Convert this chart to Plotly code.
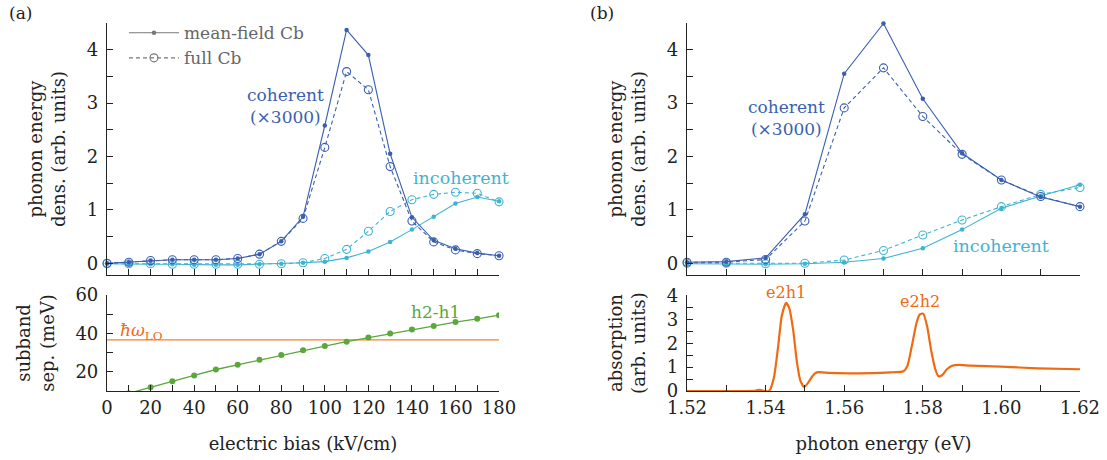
import plotly.graph_objects as go

# ---------------- data ----------------
bias = [0, 10, 20, 30, 40, 50, 60, 70, 80, 90, 100, 110, 120, 130, 140, 150, 160, 170, 180]
coh_mf_a = [0.0, 0.02, 0.05, 0.065, 0.065, 0.065, 0.09, 0.17, 0.41, 0.87, 2.58, 4.37, 3.90, 2.05, 0.86, 0.43, 0.27, 0.19, 0.14]
coh_full_a = [0.0, 0.02, 0.05, 0.065, 0.065, 0.065, 0.09, 0.17, 0.41, 0.84, 2.17, 3.59, 3.25, 1.81, 0.79, 0.40, 0.25, 0.18, 0.14]
inc_mf_a = [-0.01, -0.02, -0.02, -0.02, -0.03, -0.03, -0.03, -0.02, -0.01, 0.01, 0.03, 0.10, 0.22, 0.40, 0.63, 0.87, 1.12, 1.24, 1.16]
inc_full_a = [-0.01, -0.01, -0.01, -0.02, -0.02, -0.02, -0.02, -0.02, -0.01, 0.01, 0.09, 0.26, 0.60, 0.97, 1.19, 1.29, 1.33, 1.31, 1.15]

bias_sub = [10, 20, 30, 40, 50, 60, 70, 80, 90, 100, 110, 120, 130, 140, 150, 160, 170, 180]
h2h1 = [8.8, 12.0, 15.1, 18.1, 21.2, 23.7, 26.3, 28.7, 31.2, 33.4, 35.7, 37.8, 39.9, 42.0, 43.9, 45.9, 47.6, 49.5]
hw_lo = 36.6

photon = [1.52, 1.53, 1.54, 1.55, 1.56, 1.57, 1.58, 1.59, 1.60, 1.61, 1.62]
coh_mf_b = [0.02, 0.03, 0.10, 0.92, 3.55, 4.49, 3.08, 2.06, 1.56, 1.24, 1.06]
coh_full_b = [0.02, 0.02, 0.07, 0.79, 2.91, 3.66, 2.75, 2.04, 1.56, 1.25, 1.06]
inc_mf_b = [-0.01, -0.02, -0.02, -0.01, 0.02, 0.09, 0.28, 0.63, 1.03, 1.26, 1.47]
inc_full_b = [0.0, 0.0, -0.01, 0.0, 0.06, 0.24, 0.53, 0.81, 1.06, 1.29, 1.42]

abs_e = [1.520, 1.525, 1.530, 1.535, 1.5375, 1.5385, 1.5398, 1.5409, 1.5421, 1.5432, 1.5441, 1.5452,
         1.5460, 1.5470, 1.5480, 1.5489, 1.5498, 1.5508, 1.5519, 1.5530, 1.5563, 1.5623, 1.5691,
         1.5717, 1.5751, 1.5761, 1.5772, 1.5784, 1.5792, 1.5801, 1.5811, 1.5821, 1.5832, 1.5840,
         1.5849, 1.5862, 1.5875, 1.5892, 1.5921, 1.5998, 1.6092, 1.6200]
abs_v = [0.0, 0.0, 0.0, 0.0, 0.02, 0.05, 0.0, 0.0, 0.55, 1.88, 3.13, 3.69,
         3.48, 2.57, 1.17, 0.41, 0.17, 0.34, 0.62, 0.78, 0.76, 0.74, 0.76,
         0.78, 0.83, 1.06, 1.87, 2.85, 3.20, 3.24, 2.71, 1.73, 0.90, 0.62,
         0.66, 0.92, 1.06, 1.09, 1.06, 1.02, 0.95, 0.91]

# ---------------- style ----------------
DARK = "#3a5fb0"
LIGHT = "#3fb4d2"
GREEN = "#5aa83c"
ORANGE = "#f06a12"
GRAY = "#777777"
FONT = "DejaVu Serif"

fig = go.Figure()

def add_pair(x, ymf, yfull, color, xa, ya):
    fig.add_trace(go.Scatter(x=x, y=ymf, mode="lines+markers", xaxis=xa, yaxis=ya,
                             line=dict(color=color, width=1.1),
                             marker=dict(color=color, size=4.5), showlegend=False, cliponaxis=False))
    fig.add_trace(go.Scatter(x=x, y=yfull, mode="lines+markers", xaxis=xa, yaxis=ya,
                             line=dict(color=color, width=1.1, dash="4px,3px"),
                             marker=dict(color=color, size=8, symbol="circle-open",
                                         line=dict(color=color, width=1.1)),
                             showlegend=False, cliponaxis=False))

add_pair(bias, inc_mf_a, inc_full_a, LIGHT, "x", "y")
add_pair(bias, coh_mf_a, coh_full_a, DARK, "x", "y")
add_pair(photon, inc_mf_b, inc_full_b, LIGHT, "x3", "y3")
add_pair(photon, coh_mf_b, coh_full_b, DARK, "x3", "y3")

# legend entries
fig.add_trace(go.Scatter(x=[None], y=[None], mode="lines+markers", name="mean-field Cb",
                         line=dict(color=GRAY, width=1.1), marker=dict(color=GRAY, size=4.5),
                         xaxis="x", yaxis="y"))
fig.add_trace(go.Scatter(x=[None], y=[None], mode="lines+markers", name="full Cb",
                         line=dict(color=GRAY, width=1.1, dash="4px,3px"),
                         marker=dict(color=GRAY, size=8, symbol="circle-open",
                                     line=dict(color=GRAY, width=1.1)),
                         xaxis="x", yaxis="y"))

# subband separation
fig.add_trace(go.Scatter(x=[0, 180], y=[hw_lo, hw_lo], mode="lines", xaxis="x2", yaxis="y2",
                         line=dict(color="#f4812f", width=1.3), showlegend=False))
fig.add_trace(go.Scatter(x=bias_sub, y=h2h1, mode="lines+markers", xaxis="x2", yaxis="y2",
                         line=dict(color=GREEN, width=1.3), marker=dict(color=GREEN, size=6),
                         showlegend=False))

# absorption
fig.add_trace(go.Scatter(x=abs_e, y=abs_v, mode="lines", xaxis="x4", yaxis="y4",
                         line=dict(color=ORANGE, width=2.2, shape="spline", smoothing=0.6),
                         showlegend=False, cliponaxis=False))

axis_common = dict(showline=True, linecolor="#222", linewidth=1.3, ticks="inside",
                   tickcolor="#222", ticklen=6, tickwidth=1.1, showgrid=False, zeroline=False,
                   automargin=False,
                   tickfont=dict(family=FONT, size=18, color="#222"))
minor_style = dict(ticks="inside", ticklen=6, tickcolor="#222", tickwidth=1.1, showgrid=False)

XA = [0.0967, 0.4508]
XB = [0.6206, 0.9756]
YT = [0.4022, 0.95]
YB = [0.15, 0.3587]

title_font = dict(family=FONT, size=18, color="#222")

fig.update_layout(
    width=1107, height=460, margin=dict(l=0, r=0, t=0, b=0, autoexpand=False),
    plot_bgcolor="white", paper_bgcolor="white",
    font=dict(family=FONT, size=17, color="#222"),
    xaxis=dict(axis_common, domain=XA, anchor="y", range=[0, 180], dtick=10, showticklabels=False),
    yaxis=dict(axis_common, domain=YT, anchor="x", range=[-0.22, 4.5], dtick=1, tick0=0,
               ticklabelstandoff=4, minor=dict(minor_style, dtick=0.5, tick0=0),
               title=dict(text="phonon energy<br>dens. (arb. units)", font=title_font, standoff=16)),
    xaxis2=dict(axis_common, domain=XA, anchor="y2", range=[0, 180], dtick=20, tick0=0,
                minor=dict(minor_style, dtick=10, tick0=0),
                title=dict(text="electric bias (kV/cm)", font=title_font, standoff=20)),
    yaxis2=dict(axis_common, domain=YB, anchor="x2", range=[10, 60], dtick=20, tick0=0,
                ticklabelstandoff=4, minor=dict(minor_style, dtick=10, tick0=0),
                title=dict(text="subband<br>sep. (meV)", font=title_font, standoff=16)),
    xaxis3=dict(axis_common, domain=XB, anchor="y3", range=[1.52, 1.62], dtick=0.01, tick0=1.52,
                showticklabels=False),
    yaxis3=dict(axis_common, domain=YT, anchor="x3", range=[-0.22, 4.5], dtick=1, tick0=0,
                ticklabelstandoff=4, minor=dict(minor_style, dtick=0.5, tick0=0),
                title=dict(text="phonon energy<br>dens. (arb. units)", font=title_font, standoff=16)),
    xaxis4=dict(axis_common, domain=XB, anchor="y4", range=[1.52, 1.62], dtick=0.02, tick0=1.52,
                tickformat=".2f", minor=dict(minor_style, dtick=0.01, tick0=1.52),
                title=dict(text="photon energy (eV)", font=title_font, standoff=20)),
    yaxis4=dict(axis_common, domain=YB, anchor="x4", range=[0, 4.02], dtick=1, tick0=0,
                ticklabelstandoff=4, minor=dict(minor_style, dtick=0.5, tick0=0),
                title=dict(text="absorption<br>(arb. units)", font=title_font, standoff=16)),
    legend=dict(x=0.112, y=0.967, xanchor="left", yanchor="top", bgcolor="rgba(0,0,0,0)",
                font=dict(family=FONT, size=17, color="#666"), tracegroupgap=0, itemwidth=50),
    showlegend=True,
)

ann = [
    dict(text="(a)", x=0.0, y=1.0, xref="paper", yref="paper", xanchor="left", yanchor="top",
         font=dict(size=17, color="#222"), xshift=7, yshift=-1),
    dict(text="(b)", x=0.531, y=1.0, xref="paper", yref="paper", xanchor="left", yanchor="top",
         font=dict(size=17, color="#222"), yshift=-1),
    dict(text="coherent<br>(×3000)", x=82, y=2.94, xref="x", yref="y", font=dict(size=17, color=DARK)),
    dict(text="coherent<br>(×3000)", x=1.5452, y=2.72, xref="x3", yref="y3", font=dict(size=17, color=DARK)),
    dict(text="incoherent", x=162.5, y=1.59, xref="x", yref="y", font=dict(size=17.5, color=LIGHT)),
    dict(text="incoherent", x=1.600, y=0.32, xref="x3", yref="y3", font=dict(size=17.5, color=LIGHT)),
    dict(text="h2-h1", x=151, y=51, xref="x2", yref="y2", font=dict(size=17, color=GREEN)),
    dict(text="<i>ħω</i><sub>LO</sub>", x=16, y=41, xref="x2", yref="y2", font=dict(size=17, color=ORANGE)),
    dict(text="e2h1", x=1.5452, y=3.69, xref="x4", yref="y4", yshift=10, font=dict(size=16, color=ORANGE)),
    dict(text="e2h2", x=1.5792, y=3.24, xref="x4", yref="y4", yshift=12, font=dict(size=16, color=ORANGE)),
]
for a in ann:
    a.setdefault("showarrow", False)
    a["font"]["family"] = FONT
fig.update_layout(annotations=ann)

fig.write_html("out.html")
